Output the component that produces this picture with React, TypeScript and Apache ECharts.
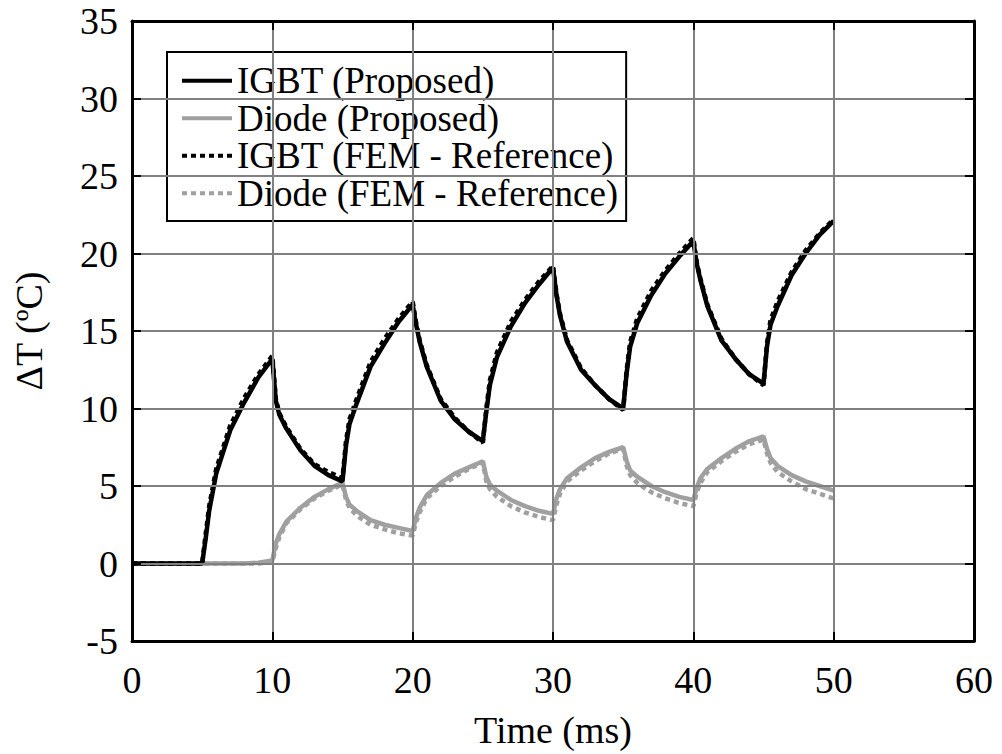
import React, { useEffect, useRef } from "react";
import * as echarts from "echarts";

const time = [
  0, 1, 2, 3, 4, 5,
  5.25, 5.5, 6, 7, 8, 9, 10,
  10.25, 10.5, 11, 12, 13, 14, 15,
  15.25, 15.5, 16, 17, 18, 19, 20,
  20.25, 20.5, 21, 22, 23, 24, 25,
  25.25, 25.5, 26, 27, 28, 29, 30,
  30.25, 30.5, 31, 32, 33, 34, 35,
  35.25, 35.5, 36, 37, 38, 39, 40,
  40.25, 40.5, 41, 42, 43, 44, 45,
  45.25, 45.5, 46, 47, 48, 49, 50,
];

const igbtProposed = [
  0, 0, 0, 0, 0, 0,
  1.6, 3.4, 5.8, 8.6, 10.4, 12.0, 13.2,
  10.5, 9.6, 8.7, 7.3, 6.3, 5.7, 5.3,
  7.6, 9.0, 10.3, 12.7, 14.2, 15.6, 16.7,
  15.4, 14.3, 12.7, 10.5, 9.3, 8.5, 7.9,
  9.8, 11.5, 13.3, 15.3, 16.8, 18.0, 19.1,
  17.3, 16.0, 14.3, 12.5, 11.5, 10.6, 10.0,
  12.3, 14.0, 15.5, 17.3, 18.7, 19.8, 20.8,
  19.3, 18.3, 16.6, 14.4, 13.2, 12.2, 11.6,
  14.0, 15.4, 16.6, 18.6, 20.0, 21.2, 22.1,
];

const diodeProposed = [
  0, 0, 0, 0, 0, 0,
  0, 0, 0, 0, 0, 0.05, 0.2,
  1.3, 1.9, 2.7, 3.6, 4.3, 4.8, 5.2,
  4.3, 3.8, 3.4, 2.8, 2.5, 2.3, 2.1,
  3.0, 3.6, 4.4, 5.2, 5.8, 6.2, 6.6,
  5.6, 5.1, 4.7, 4.1, 3.7, 3.4, 3.2,
  4.2, 4.8, 5.5, 6.2, 6.8, 7.2, 7.5,
  6.6, 6.0, 5.6, 5.0, 4.6, 4.3, 4.1,
  4.9, 5.5, 6.1, 6.8, 7.4, 7.9, 8.2,
  7.4, 6.8, 6.3, 5.7, 5.3, 5.0, 4.7,
];

const igbtFem = [
  0, 0, 0, 0, 0, 0,
  1.9, 3.7, 6.1, 8.9, 10.7, 12.2, 13.4,
  10.6, 9.7, 8.8, 7.4, 6.4, 5.9, 5.5,
  7.9, 9.3, 10.6, 13.0, 14.5, 15.8, 16.9,
  15.5, 14.4, 12.8, 10.6, 9.4, 8.5, 7.8,
  10.0, 11.8, 13.6, 15.6, 17.0, 18.2, 19.2,
  17.4, 16.1, 14.4, 12.6, 11.5, 10.6, 9.9,
  12.5, 14.3, 15.8, 17.6, 18.9, 20.0, 21.0,
  19.4, 18.4, 16.7, 14.5, 13.2, 12.2, 11.5,
  14.2, 15.7, 16.9, 18.8, 20.2, 21.3, 22.2,
];

const diodeFem = [
  0, 0, 0, 0, 0, 0,
  0, 0, 0, 0, 0, 0, 0.1,
  1.0, 1.7, 2.6, 3.5, 4.2, 4.7, 5.1,
  4.1, 3.6, 3.1, 2.5, 2.2, 1.95, 1.8,
  2.7, 3.3, 4.2, 5.0, 5.6, 6.1, 6.5,
  5.3, 4.8, 4.3, 3.7, 3.3, 3.0, 2.8,
  3.8, 4.5, 5.3, 6.0, 6.6, 7.1, 7.4,
  6.3, 5.7, 5.2, 4.6, 4.2, 3.9, 3.7,
  4.6, 5.2, 5.9, 6.6, 7.2, 7.7, 8.0,
  7.1, 6.5, 5.9, 5.3, 4.8, 4.5, 4.2,
];

const seriesNames = [
  "IGBT (Proposed)",
  "Diode (Proposed)",
  "IGBT (FEM - Reference)",
  "Diode (FEM - Reference)",
];

const FONT = "Liberation Serif";
const BLACK = "#000000";
const GRAY = "#a0a0a0";

function pairs(vals: number[]) {
  return time.map((t, i) => [t, vals[i]]);
}

export default function App() {
  const ref = useRef<HTMLDivElement>(null);
  useEffect(() => {
    if (!ref.current) return;
    const chart = echarts.init(ref.current, undefined, { renderer: "svg" });
    const tickCommon = {
      show: true,
      inside: true,
      length: 9,
      lineStyle: { color: BLACK, width: 2 },
    };
    const axisLineCommon = { show: true, onZero: false, lineStyle: { color: BLACK, width: 3 } };
    const splitCommon = {
      show: true,
      showMinLine: false,
      showMaxLine: false,
      lineStyle: { color: "#808080", width: 2 },
    };
    chart.setOption({
      animation: false,
      backgroundColor: "#ffffff",
      textStyle: { fontFamily: FONT },
      grid: { left: 132, right: 28, top: 21, bottom: 100, containLabel: false },
      legend: {
        data: seriesNames,
        orient: "vertical",
        left: 167,
        top: 52,
        itemWidth: 50,
        itemHeight: 14,
        itemGap: 0,
        padding: [10, 8, 9, 13],
        backgroundColor: "#ffffff",
        borderColor: BLACK,
        borderWidth: 2,
        borderRadius: 0,
        itemStyle: { opacity: 0 },
        lineStyle: { width: 4 },
        textStyle: { fontFamily: FONT, fontSize: 37, color: BLACK, lineHeight: 37.5 },
      },
      xAxis: [
        {
          type: "value",
          min: 0,
          max: 60,
          interval: 10,
          position: "bottom",
          name: "Time (ms)",
          nameLocation: "middle",
          nameGap: 70,
          nameTextStyle: { fontFamily: FONT, fontSize: 38, color: BLACK },
          axisLine: axisLineCommon,
          axisTick: tickCommon,
          axisLabel: { fontFamily: FONT, fontSize: 38, color: BLACK, margin: 20 },
          splitLine: splitCommon,
          z: 5,
        },
        {
          type: "value",
          min: 0,
          max: 60,
          interval: 10,
          position: "top",
          axisLine: axisLineCommon,
          axisTick: tickCommon,
          axisLabel: { show: false },
          splitLine: { show: false },
          z: 5,
        },
      ],
      yAxis: [
        {
          type: "value",
          min: -5,
          max: 35,
          interval: 5,
          position: "left",
          name: "ΔT (ºC)",
          nameLocation: "middle",
          nameGap: 84,
          nameTextStyle: { fontFamily: FONT, fontSize: 38, color: BLACK },
          axisLine: axisLineCommon,
          axisTick: tickCommon,
          axisLabel: { fontFamily: FONT, fontSize: 38, color: BLACK, margin: 14 },
          splitLine: splitCommon,
          z: 5,
        },
        {
          type: "value",
          min: -5,
          max: 35,
          interval: 5,
          position: "right",
          axisLine: axisLineCommon,
          axisTick: tickCommon,
          axisLabel: { show: false },
          splitLine: { show: false },
          z: 5,
        },
      ],
      series: [
        {
          name: seriesNames[0],
          type: "line",
          data: pairs(igbtProposed),
          symbol: "none",
          lineStyle: { color: BLACK, width: 4.5 },
          itemStyle: { color: BLACK },
          z: 4,
        },
        {
          name: seriesNames[1],
          type: "line",
          data: pairs(diodeProposed),
          symbol: "none",
          lineStyle: { color: GRAY, width: 4.5 },
          itemStyle: { color: GRAY },
          z: 3,
        },
        {
          name: seriesNames[2],
          type: "line",
          data: pairs(igbtFem),
          symbol: "none",
          lineStyle: { color: BLACK, width: 4.5, type: [5, 4] },
          itemStyle: { color: BLACK },
          z: 4,
        },
        {
          name: seriesNames[3],
          type: "line",
          data: pairs(diodeFem),
          symbol: "none",
          lineStyle: { color: GRAY, width: 4.5, type: [5, 4] },
          itemStyle: { color: GRAY },
          z: 3,
        },
      ],
    });
    return () => chart.dispose();
  }, []);
  return (
    <div
      ref={ref}
      style={{ position: "fixed", left: 0, top: 0, width: 1002, height: 754, background: "#fff" }}
    />
  );
}
